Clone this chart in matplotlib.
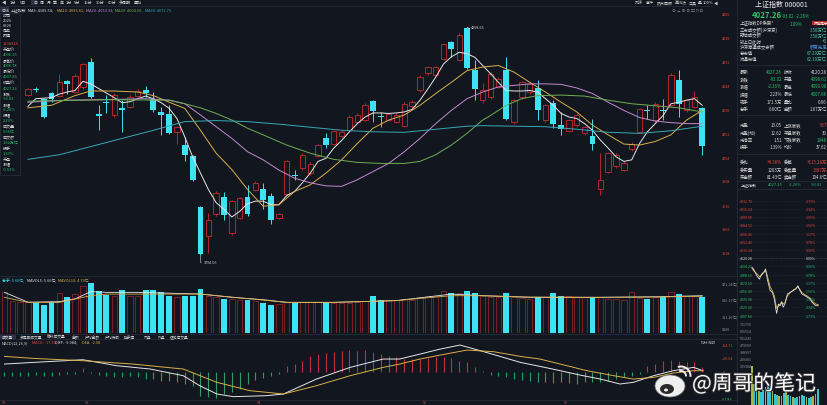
import numpy as np
import matplotlib.pyplot as plt
from matplotlib.patches import Rectangle, Ellipse, Arc
from matplotlib import patheffects as pe

plt.rcParams['font.family'] = ['Noto Sans CJK SC', 'DejaVu Sans']
plt.rcParams['axes.unicode_minus'] = False

# ---------------- daily candles (index 0..86) ----------------
opens = [4127, 4138, 4118, 4131, 4125, 4153, 4133, 4142, 4191, 4088,
         4113, 4086, 4101, 4103, 4125, 4135, 4118, 4093, 4088, 4054,
         4029, 4007, 3907, 3850, 3892, 3926, 3855, 3885, 3926, 3940,
         3942, 3929, 3885, 3933, 3970, 3983, 3973, 4007, 4041, 4031,
         4046, 4057, 4074, 4077, 4114, 4085, 4077, 4074, 4065, 4104,
         4135, 4169, 4166, 4197, 4231, 4195, 4257, 4175, 4116, 4122,
         4142, 4175, 4074, 4122, 4132, 4140, 4077, 4111, 4068, 4056,
         4067, 4051, 4046, 3941, 3976, 3986, 3980, 4020, 4054, 4096,
         4077, 4096, 4106, 4155, 4096, 4103, 4101]
closes = [4137, 4135, 4083, 4119, 4151, 4148, 4164, 4186, 4123, 4085,
          4110, 4127, 4097, 4123, 4134, 4130, 4096, 4086, 4051, 4064,
          4009, 3959, 3814, 3882, 3934, 3891, 3918, 3924, 3893, 3954,
          3921, 3882, 3892, 3996, 3968, 4009, 3991, 4028, 4029, 4055,
          4054, 4083, 4087, 4107, 4095, 4083, 4088, 4087, 4109, 4113,
          4162, 4181, 4181, 4226, 4216, 4244, 4179, 4137, 4135, 4168,
          4158, 4079, 4116, 4151, 4148, 4096, 4106, 4070, 4059, 4077,
          4087, 4063, 4030, 3960, 4012, 4009, 3993, 4031, 4098, 4094,
          4109, 4094, 4166, 4109, 4116, 4122, 4027]
highs = [4140, 4142, 4121, 4133, 4168, 4156, 4168, 4189, 4199, 4106,
         4127, 4130, 4116, 4126, 4137, 4143, 4132, 4103, 4106, 4065,
         4043, 4009, 3908, 3895, 3937, 3935, 3921, 3927, 3950, 3957,
         3954, 3934, 3894, 3998, 3980, 4012, 3994, 4031, 4051, 4058,
         4057, 4086, 4090, 4110, 4117, 4093, 4091, 4090, 4112, 4116,
         4165, 4184, 4184, 4229, 4233, 4247, 4259, 4194, 4150, 4171,
         4161, 4201, 4118, 4154, 4151, 4155, 4109, 4116, 4093, 4080,
         4090, 4066, 4080, 4012, 4015, 4012, 3996, 4034, 4101, 4106,
         4112, 4119, 4169, 4175, 4119, 4134, 4103]
lows = [4125, 4132, 4082, 4112, 4122, 4129, 4130, 4138, 4121, 4057,
        4090, 4084, 4054, 4100, 4122, 4122, 4093, 4048, 4050, 4031,
        3996, 3957, 3812, 3817, 3889, 3882, 3852, 3883, 3889, 3937,
        3903, 3874, 3883, 3930, 3960, 3980, 3970, 4005, 4022, 4029,
        4043, 4055, 4071, 4075, 4074, 4064, 4075, 4071, 4063, 4101,
        4133, 4166, 4163, 4194, 4201, 4193, 4177, 4116, 4110, 4119,
        4139, 4077, 4070, 4119, 4129, 4078, 4074, 4061, 4048, 4053,
        4064, 4048, 4018, 3931, 3973, 3983, 3977, 4017, 4051, 4080,
        4074, 4077, 4103, 4083, 4093, 4100, 4009]

# moving averages
ma5 = [4104, 4119, 4120, 4121, 4128, 4132, 4135, 4153, 4148, 4139,
       4130, 4121, 4111, 4113, 4119, 4124, 4119, 4111, 4100, 4080,
       4044, 4005, 3973, 3941, 3915, 3902, 3887, 3898, 3913, 3918,
       3918, 3911, 3911, 3929, 3937, 3954, 3973, 3996, 4002, 4022,
       4037, 4054, 4070, 4083, 4091, 4091, 4090, 4091, 4093, 4098,
       4116, 4138, 4161, 4187, 4201, 4210, 4207, 4200, 4184, 4168,
       4151, 4135, 4134, 4134, 4135, 4132, 4119, 4106, 4090, 4083,
       4080, 4070, 4057, 4038, 4022, 4005, 3996, 3999, 4031, 4054,
       4070, 4086, 4109, 4112, 4116, 4119, 4106]
ma10_x = [0, 3, 6, 8, 11, 14, 16, 18, 20, 22, 24, 26, 28, 30, 32, 34, 36, 38, 40, 42, 44,
          46, 48, 50, 52, 54, 56, 58, 60, 62, 64, 66, 68, 70, 72, 74, 76, 78, 80, 82, 84, 86]
ma10 = [4101, 4106, 4125, 4134, 4134, 4132, 4125, 4112, 4100, 4057, 4012, 3980, 3941, 3908,
        3911, 3937, 3950, 3973, 3999, 4031, 4061, 4077, 4087, 4106, 4129, 4151, 4174, 4181,
        4184, 4171, 4151, 4132, 4112, 4093, 4067, 4048, 4030, 4028, 4035, 4048, 4077, 4096]
ma20_x = [0, 5, 10, 15, 18, 20, 22, 24, 26, 28, 30, 32, 34, 36, 38, 40, 42, 44, 46, 48,
          50, 52, 54, 56, 58, 60, 62, 64, 66, 68, 70, 72, 74, 76, 78, 80, 82, 84, 86]
ma20 = [4112, 4116, 4117, 4119, 4116, 4109, 4087, 4064, 4041, 4015, 3999, 3979, 3963, 3954,
        3948, 3947, 3960, 3976, 3992, 4015, 4041, 4070, 4096, 4119, 4132, 4142, 4145, 4148,
        4148, 4147, 4140, 4129, 4112, 4096, 4082, 4075, 4072, 4070, 4070]
ma30_x = [0, 10, 18, 20, 22, 24, 26, 28, 30, 33, 36, 39, 42, 45, 48, 50, 52, 54, 56, 58,
          59, 61, 63, 65, 68, 71, 74, 77, 80, 83, 86]
ma30 = [4114, 4117, 4116, 4109, 4101, 4090, 4077, 4061, 4048, 4028, 4012, 4000, 3994, 3992,
        3992, 3996, 4009, 4028, 4051, 4077, 4086, 4106, 4119, 4125, 4126, 4124, 4116, 4109,
        4105, 4101, 4093]
ma60_x = [0, 4, 8, 12, 16, 20, 24, 28, 32, 36, 40, 44, 48, 52, 56, 58, 62, 66, 70, 74, 78, 82, 86]
ma60 = [4000, 4009, 4025, 4041, 4057, 4074, 4076, 4074, 4069, 4063, 4057, 4054, 4053, 4059,
        4065, 4066, 4065, 4064, 4059, 4053, 4051, 4056, 4065]
price_ticks = [4285, 4238, 4191, 4144, 4098, 4051, 4004, 3958, 3910, 3865, 3818]

# ---------------- volume (index -3..86) ----------------
vol_x = list(range(-3, 87))
volumes = [752, 598, 567,
           567, 549, 518, 579, 740, 660, 721, 876, 919, 777,
           709, 690, 801, 690, 690, 789, 795, 752, 690, 660,
           678, 690, 808, 690, 660, 629, 629, 616, 616, 598,
           561, 511, 536, 567, 561, 567, 567, 567, 573, 555,
           555, 555, 579, 592, 684, 616, 616, 616, 629, 616,
           660, 690, 690, 783, 734, 740, 771, 740, 690, 660,
           660, 734, 660, 641, 629, 666, 660, 740, 684, 678,
           660, 666, 672, 660, 629, 629, 616, 752, 641, 629,
           660, 660, 764, 721, 678, 690, 672]
mavol5_x = [-3, 0, 4, 6, 8, 10, 14, 22, 26, 30, 33, 39, 47, 50, 54, 58, 64, 73, 80, 86]
mavol5 = [752, 570, 580, 630, 765, 752, 752, 721, 660, 616, 567, 567, 600, 650, 720, 690, 660, 660, 670, 690]
mavol10_x = [-3, 0, 4, 8, 10, 16, 22, 27, 33, 39, 47, 50, 54, 58, 64, 73, 80, 86]
mavol10 = [660, 567, 567, 690, 720, 720, 721, 650, 567, 567, 598, 640, 690, 690, 665, 660, 665, 680]
vol_ticks = [921.14, 616.17, 311.20]

# ---------------- MACD ----------------
macd_hist = [-9.5, -8.1, -9.5,
             -8.1, -6.8, -8.1, -9.5, -6.8, -5.4, -4.1, 8.1, -2.7, -6.8,
             -8.1, -11.5, -11.5, -9.5, -11.5, -14.9, -14.9, -18.3, -18.3, -21.6,
             -25, -28.4, -48.7, -52, -54.1, -46, -41.9, -35.2, -25, -16.2,
             -12.2, -8.1, -4.7, 10.8, 15.5, 22.3, 31.1, 35.8, 37.9, 39.2,
             42.6, 44.6, 42.6, 44.6, 39.2, 35.8, 31.1, 29.1, 25.7, 25,
             25.7, 27, 29.1, 29.1, 27, 22.3, 18.9, 8.8, 2, -6.8,
             -8.1, -11.5, -14.9, -16.2, -18.3, -20.3, -21.6, -23, -21.6, -23,
             -25, -21.6, -21.6, -20.3, -18.3, -14.9, -11.5, -8.1, -4.7, 12.2,
             15.5, 22.3, 24.3, 22.3, 20.3, 18.9, 8.8]
diff_x = [-3, 0.7, 7, 11.3, 15.6, 19.8, 21.9, 24.1, 26.2, 30.4, 32.6, 36.8, 41.1, 45.3, 47.4,
          50, 52.6, 55.1, 57.7, 60.2, 62.8, 65.3, 67.9, 70.4, 73, 75.5, 77.2, 79.8, 82.3, 84.9, 86.1]
diff_v = [15.5, 18.9, 24.3, 12.2, 5.4, -8.1, -28.4, -45.3, -50.7, -48.7, -45.3, -14.9, 8.8, 25.7,
          25.7, 35.8, 46, 54.1, 42.6, 31.1, 18.9, 10.8, 2, -6.8, -14.9, -25, -21.6, -8.1, 2, 8.8, 2]
dea_x = [-3, 0.7, 7, 13.4, 19.8, 24.1, 28.3, 32.6, 36.8, 41.1, 45.3, 47.4, 50, 52.6, 56, 59.4,
         62.8, 65.3, 67.9, 71.3, 74.7, 77.2, 79.8, 82.3, 84.9, 86.1]
dea_v = [31.1, 27, 22.3, 15.5, 5.4, -21.6, -38.5, -45.3, -28.4, -8.1, 8.8, 15.5, 25.7, 33.8,
         43.9, 40.6, 31.1, 25.7, 15.5, 2, -8.1, -14.9, -11.5, -2.7, 2, 2]

# ---------------- intraday mini chart ----------------
intra_min = [0, 5, 17, 26, 34, 42, 48, 54, 64, 72, 79, 84, 87, 93, 99, 105, 110, 116, 125, 134,
             146, 155, 162, 169, 176, 186, 195, 205, 212, 219, 226, 234]
intra_price = [4102, 4099, 4086, 4079, 4089, 4093, 4099, 4079, 4057, 4053, 4040, 4021, 4012, 4030,
               4027, 4034, 4024, 4030, 4050, 4053, 4057, 4060, 4066, 4057, 4050, 4047, 4044, 4040,
               4034, 4030, 4027, 4027]
intra_avg = [4100, 4096, 4090, 4084, 4087, 4092, 4096, 4086, 4064, 4056, 4046, 4030, 4022, 4026,
             4030, 4035, 4030, 4033, 4046, 4052, 4058, 4061, 4064, 4059, 4053, 4049, 4046, 4042,
             4037, 4033, 4030, 4029]
intra_ticks = [4232.70, 4216.64, 4200.58, 4184.52, 4168.46, 4152.40, 4136.34, 4120.28,
               4104.22, 4088.16, 4072.10, 4056.04, 4039.98, 4023.92, 4007.86]
intra_pct = ['2.73%', '2.34%', '1.95%', '1.56%', '1.17%', '0.78%', '0.39%', '0.00%',
             '0.39%', '0.78%', '1.17%', '1.56%', '1.95%', '2.34%', '2.73%']
ivol_min = [0, 8, 16, 24, 32, 40, 48, 56, 64, 72, 80, 88, 96, 104, 112, 120, 128, 136, 144, 152,
            160, 168, 176, 184, 192, 200, 208, 216, 224, 232]
ivol = [390, 210, 170, 140, 130, 150, 180, 200, 170, 140, 110, 100, 90, 95, 120, 130, 100, 90,
        80, 70, 85, 95, 105, 90, 80, 75, 85, 95, 110, 160]

# ---------------- style ----------------
W, H = 828, 406
BG = '#12161f'
GRID = '#262c38'
CYAN = '#3de3f2'
RED = '#b3272e'
RED_T = '#e0443c'
GREEN = '#27c26a'
WHITE = '#d6d6d6'
GREY = '#8e949e'
YEL = '#d8b04a'
PURP = '#c28ad0'
MGREEN = '#6fae55'
TEAL = '#35a9b5'

fig = plt.figure(figsize=(W / 100, H / 100), dpi=100, facecolor=BG)


def box(l, t, r, b):
    return [l / W, 1 - b / H, (r - l) / W, (b - t) / H]


def ftext(x, y, s, color=WHITE, size=3.2, ha='left', **kw):
    fig.text(x / W, 1 - y / H, s, color=color, fontsize=size, ha=ha, va='center', zorder=7, **kw)


def hline(y, x0, x1, color=GRID, lw=0.6):
    fig.add_artist(plt.Line2D([x0 / W, x1 / W], [1 - y / H, 1 - y / H], color=color, lw=lw, zorder=4))


def vline(x, y0, y1, color=GRID, lw=0.6):
    fig.add_artist(plt.Line2D([x / W, x / W], [1 - y0 / H, 1 - y1 / H], color=color, lw=lw, zorder=4))


def frect(l, t, r, b, fc, ec='none', lw=0.5, z=5):
    fig.add_artist(Rectangle((l / W, 1 - b / H), (r - l) / W, (b - t) / H, transform=fig.transFigure,
                             facecolor=fc, edgecolor=ec, lw=lw, zorder=z))


def price_at(y):
    return 4285 - 1.946 * (y - 13)


XL = ((0 - 28) / 7.84, (712 - 28) / 7.84)
LAB_X = 1 + 10 / 712


def clean(a):
    a.set_facecolor(BG)
    a.set_xlim(*XL)
    a.set_xticks([])
    for s in a.spines.values():
        s.set_visible(False)


# ---------------- price panel ----------------
ax = fig.add_axes(box(0, 15, 712, 276))
clean(ax)
ax.set_ylim(price_at(276), price_at(15))
ax.yaxis.tick_right()
ax.set_yticks(price_ticks)
ax.set_yticklabels([str(v) for v in price_ticks])
ax.tick_params(axis='y', length=0, pad=7.2, labelsize=2.7, labelcolor=RED_T)

o, c, h, l = map(np.array, (opens, closes, highs, lows))
x = np.arange(len(o))
up = c >= o
lo = np.minimum(o, c)
hi = np.maximum(o, c)
bh = np.maximum(hi - lo, 1.5)
ax.vlines(x[~up], l[~up], h[~up], color=CYAN, lw=0.7, zorder=2)
ax.bar(x[~up], bh[~up], bottom=lo[~up], width=0.76, color=CYAN, lw=0, zorder=3)
ax.vlines(x[up], hi[up], h[up], color=RED, lw=0.7, zorder=2)
ax.vlines(x[up], l[up], lo[up], color=RED, lw=0.7, zorder=2)
ax.bar(x[up], bh[up], bottom=lo[up], width=0.68, facecolor=BG, edgecolor=RED, lw=0.7, zorder=3)

ax.plot(x, ma5, color='#e6e6e6', lw=0.7, zorder=4)
ax.plot(ma10_x, ma10, color=YEL, lw=0.7, zorder=4)
ax.plot(ma20_x, ma20, color=PURP, lw=0.7, zorder=4)
ax.plot(ma30_x, ma30, color=MGREEN, lw=0.7, zorder=4)
ax.plot(ma60_x, ma60, color=TEAL, lw=0.7, zorder=4)

imax = int(np.argmax(h))
imin = int(np.argmin(l))
ax.annotate('4258.66', xy=(imax, h[imax]), xytext=(3, 0.5), textcoords='offset points',
            fontsize=2.7, color=WHITE, va='center',
            arrowprops=dict(arrowstyle='-', color=WHITE, lw=0.4, shrinkA=0, shrinkB=0))
ax.annotate('3794.56', xy=(imin, l[imin]), xytext=(2.5, -5), textcoords='offset points',
            fontsize=2.7, color=WHITE, va='center',
            arrowprops=dict(arrowstyle='-', color=WHITE, lw=0.4, shrinkA=0, shrinkB=0,
                            connectionstyle='angle,angleA=0,angleB=90,rad=0'))

# ---------------- volume panel ----------------
ax2 = fig.add_axes(box(0, 278, 712, 334))
clean(ax2)
ax2.set_ylim(0, (334 - 278) * 18.5)
vx = np.array(vol_x)
vv = np.array(volumes)
vup = np.array([True] * 3 + list(up))
ax2.bar(vx[~vup], vv[~vup], width=0.76, color=CYAN, lw=0, zorder=3)
ax2.bar(vx[vup], vv[vup], width=0.68, facecolor=BG, edgecolor='#8c2228', lw=0.6, zorder=3)
ax2.plot(mavol5_x, mavol5, color='#e6e6e6', lw=0.6, zorder=4)
ax2.plot(mavol10_x, mavol10, color=YEL, lw=0.6, zorder=4)
ax2.set_yticks([])
for v in vol_ticks:
    ax2.text(LAB_X, v, f'{v:.2f}亿]', transform=ax2.get_yaxis_transform(), fontsize=2.7,
             color=GREY, va='center', clip_on=False)
ftext(722, 330, 'X100', color=GREY, size=2.7)

# ---------------- MACD panel ----------------
ax3 = fig.add_axes(box(0, 345, 712, 400))
clean(ax3)
ax3.set_ylim((372.7 - 400) * 2.03, (372.7 - 345) * 2.03)
ax3.set_yticks([])
hx = np.array(vol_x)
hv = np.array(macd_hist)
ax3.vlines(hx[hv >= 0], 0, hv[hv >= 0], color='#c0303a', lw=0.8)
ax3.vlines(hx[hv < 0], 0, hv[hv < 0], color='#2e9c5e', lw=0.8)
ax3.plot(diff_x, diff_v, color='#e6e6e6', lw=0.7)
ax3.plot(dea_x, dea_v, color=YEL, lw=0.7)
for v, s, col in [(54.1, '+54.71', RED_T), (27.8, '+26.64', RED_T), (0, '+0', RED_T),
                  (-54.5, '-57.83', GREEN)]:
    ax3.text(LAB_X, v, s, transform=ax3.get_yaxis_transform(), fontsize=2.7, color=col,
             va='center', clip_on=False)

# ---------------- separators ----------------
hline(6.5, 0, 712)
hline(277, 0, 737)
hline(335.2, 0, 737)
hline(340, 0, 737)
hline(400.8, 0, 737)
vline(737, 0, 406)

# ---------------- toolbar / headers ----------------
frect(31.5, 0.5, 37.5, 5.8, '#2b3342')
for tx, s in [(2, '◀|'), (10, '1分'), (20, '5日'), (33, '日'), (40, '周'), (46.5, '月'),
              (53, '季'), (59.5, '年'), (66, '1分'), (74, '5分'), (84, '15分'), (96, '30分'),
              (108, '60分'), (119, '多周期'), (134, '叠加')]:
    ftext(tx, 3.2, s, size=2.9, color=WHITE)
for tx, s in [(635, '九转'), (646, '事件'), (657, '热点回顾'), (675, '画线法'), (689, '工具'),
              (698, '星'), (703, '100%'), (714, '◀')]:
    ftext(tx, 3.2, s, size=2.9, color=WHITE)
ftext(672, 10.5, '⊙ ∠ ⊕ ⊖ ▢ ⊓ ⊡', size=2.8, color=GREY)

frect(0.5, 8, 9, 13, '#2b3342')
ftext(1.5, 10.5, '日线', size=2.8)
ftext(10.5, 10.5, '上证指数', size=2.8)
ftext(28, 10.5, 'MA5: 4105.54;', size=2.8, color='#e6e6e6')
ftext(57, 10.5, 'MA10: 4096.61;', size=2.8, color=YEL)
ftext(86, 10.5, 'MA20: 4053.33;', size=2.8, color=PURP)
ftext(115, 10.5, 'MA30: 4004.60;', size=2.8, color=MGREEN)
ftext(145, 10.5, 'MA60: 4071.79', size=2.8, color=TEAL)

# left info panel
frect(0, 14, 20, 176, BG, ec='#2c3240', lw=0.5, z=5)
left_items = [('时间', WHITE, 16), ('2026', WHITE, 20.6), ('0526', WHITE, 25.7), ('周五', WHITE, 30.7),
              ('财通', WHITE, 35.7), ('1208914', RED_T, 43.7), ('开盘价', WHITE, 50),
              ('4096.16', GREEN, 55.3), ('最高价', WHITE, 61.7), ('4096.78', GREEN, 65.7),
              ('最低价', WHITE, 72), ('4007.86', GREEN, 76.7), ('收盘价', WHITE, 83),
              ('4027.26', GREEN, 88.7), ('涨跌', WHITE, 94.7), ('-93.02', GREEN, 99.3),
              ('涨幅', WHITE, 105.7), ('-2.26%', GREEN, 110), ('振幅', WHITE, 115.7),
              ('2.23%', GREEN, 120.7), ('成交量', WHITE, 127), ('5.66亿', GREEN, 131.7),
              ('成交额', WHITE, 137.7), ('1.62万亿', GREEN, 142.7), ('换手', WHITE, 149),
              ('1.39%', GREEN, 153.7), ('开盘', WHITE, 159.7), ('涨幅', WHITE, 164.3),
              ('-0.53%', GREEN, 170)]
for s, col, ty in left_items:
    ftext(3, ty, s, color=col, size=2.9)

# volume header, tabs, MACD header
ftext(2, 281.5, '总手: 5.66亿;', size=2.8, color=CYAN)
ftext(27, 281.5, 'MAVOL5: 5.66亿;', size=2.8, color='#e6e6e6')
ftext(58, 281.5, 'MAVOL10: 4.73亿', size=2.8, color=YEL)
frect(0.5, 335.6, 16, 339.6, '#2b3342')
for tx, s in [(2, '成交量'), (20, '多周期成交量'), (47, '循环成交量'), (72, '金额'),
              (85, '户均金额'), (105, '户均持股'), (124, '换手率'), (144, '内盘'),
              (158, '外盘'), (170, '逐笔成交量')]:
    ftext(tx, 337.6, s, size=2.7, color=WHITE)
ftext(2, 342.8, 'MACD(12,26,9)', size=2.8)
ftext(32, 342.8, 'MACD: -17.95;', size=2.8, color=RED_T)
ftext(55, 342.8, 'DIFF: -9.984;', size=2.8, color='#e6e6e6')
ftext(82, 342.8, 'DEA: -2.58', size=2.8, color=YEL)
ftext(701, 343, '指标说明', size=2.7, color=GREY)
for tx, s in [(2, '02'), (85, '03'), (257, '04'), (423, '05'), (564, '06')]:
    ftext(tx, 403, s, size=2.8, color='#c0474a')

# ---------------- right info panel ----------------
ftext(755, 5, '上证指数 000001', size=5, color='#eeeeee')
ftext(752, 15.5, '4027.26', size=5.6, color=GREEN, weight='bold')
ftext(782, 16, '-93.02', size=3.2, color=GREEN)
ftext(796, 16, '-2.26%', size=3.2, color=GREEN)

top_rows = [('上证指数DP乘势*', '', 24), ('三市成交额(沪深京)', '3.58万亿', 30),
            ('预估成交额', '3.58万亿', 36), ('较上日此时', '+0', 41.7),
            ('沪深港通成交余额', '额度充足', 47.3), ('总市值', '67.29万亿', 53.3),
            ('流通市值', '62.19万亿', 59.3)]
for lab, val, ty in top_rows:
    ftext(740, ty, lab, size=3.2)
    if val:
        ftext(827, ty, val, size=3.2, ha='right', color='#4cc2a0' if val != '额度充足' else '#4a9be8')
ftext(790, 24, '1.09%', size=3.2, color=GREEN)
frect(812, 21.6, 828, 26.4, '#c0282e', z=6)
ftext(813.5, 24, '风险提示', size=2.6, color='white')

pair_rows = [('最新', '4027.26', GREEN, '昨收', '4120.28', WHITE, 72),
             ('涨跌', '-93.02', GREEN, '开盘', '4098.61', GREEN, 79.5),
             ('涨幅', '-2.26%', GREEN, '最高', '4099.98', GREEN, 87),
             ('振幅', '2.23%', WHITE, '最低', '4007.86', GREEN, 94.5),
             ('现手', '171.5万', WHITE, '量比', '0.96', WHITE, 102),
             ('总手', '6.60亿', WHITE, '金额', '1.67万亿', WHITE, 109.5),
             ('市盈', '13.05', WHITE, '上涨家数', '657', RED_T, 126),
             ('市盈(动)', '12.62', WHITE, '平盘家数', '30', WHITE, 133.3),
             ('市净率', '1.51', WHITE, '下跌家数', '1948', GREEN, 140.3),
             ('换手', '1.39%', WHITE, '均价', '37.62', WHITE, 147.3),
             ('委比', '+4.38%', RED_T, '委差', '+115.28万', RED_T, 162.5),
             ('委买量', '1263万', WHITE, '委卖量', '1387万', RED_T, 170),
             ('买金额', '81.43亿', WHITE, '卖金额', '104.6亿', WHITE, 177.5)]
for l1, v1, c1, l2, v2, c2, ty in pair_rows:
    ftext(740, ty, l1, size=3.2)
    ftext(782, ty, v1, size=3.2, color=c1, ha='right')
    ftext(784, ty, l2, size=3.2)
    ftext(827, ty, v2, size=3.2, color=c2, ha='right')
for sy in [65.5, 115.5, 154.5, 181.5, 190]:
    hline(sy, 737, 828)
ftext(741, 185.5, '上证指数', size=2.9, color=WHITE)
ftext(768, 185.5, '4027.26', size=2.9, color=GREEN)
ftext(789, 185.5, '-2.26%', size=2.9, color=GREEN)
ftext(811, 185.5, '-93.02', size=2.9, color=GREEN)

# intraday price
axi = fig.add_axes(box(737, 195, 828, 320))
axi.set_facecolor(BG)
for s in axi.spines.values():
    s.set_visible(False)
axi.set_xlim((737 - 752) * 240 / 68, (828 - 752) * 240 / 68)
axi.set_ylim(4232.70 - (320 - 201.7) * 1.9585, 4232.70 + (201.7 - 195) * 1.9585)
axi.set_xticks([])
axi.set_yticks([])
for i, (t, p) in enumerate(zip(intra_ticks, intra_pct)):
    col = RED_T if i < 7 else (WHITE if i == 7 else GREEN)
    axi.axhline(t, color='#2a303c' if i != 7 else '#777777', lw=0.4, ls=(0, (1, 2)))
    axi.text(0.027, t, f'{t:.2f}', transform=axi.get_yaxis_transform(), fontsize=2.6,
             color=col, va='center')
    axi.text(0.755, t, p, transform=axi.get_yaxis_transform(), fontsize=2.6, color=col, va='center')
axi.plot(intra_min, intra_avg, color=YEL, lw=0.6)
axi.plot(intra_min, intra_price, color='#e0e0e0', lw=0.6)

# intraday volume
axv = fig.add_axes(box(737, 320, 828, 406))
axv.set_facecolor(BG)
for s in axv.spines.values():
    s.set_visible(False)
axv.set_xlim((737 - 752) * 240 / 68, (828 - 752) * 240 / 68)
axv.set_ylim(0, 860)
axv.set_xticks([])
axv.set_yticks([])
bar_cols = [CYAN if i % 3 else '#c8d04a' for i in range(len(ivol))]
axv.bar(ivol_min, ivol, width=6, color=bar_cols, alpha=0.85, lw=0)
for ty, s in [(325, '791795'), (332, '695514'), (339, '591243'), (346, '479999'),
              (353, '398997'), (360, '299361'), (367, '199384')]:
    ftext(739.5, ty, s, size=2.6, color=GREY)

# ---------------- watermark ----------------
fig.add_artist(Ellipse((670 / W, 1 - 387 / H), 30 / W, 22 / H, transform=fig.transFigure,
                       fc='#efefef', ec='#777777', lw=0.5, zorder=9))
fig.add_artist(Ellipse((667 / W, 1 - 390 / H), 14 / W, 10 / H, transform=fig.transFigure,
                       fc='#2b2b2b', zorder=10))
fig.add_artist(Ellipse((666 / W, 1 - 391 / H), 4 / W, 3 / H, transform=fig.transFigure,
                       fc='#efefef', zorder=11))
fig.add_artist(Arc((681 / W, 1 - 377 / H), 10 / W, 10 / H, theta1=-10, theta2=100,
                   transform=fig.transFigure, color='#efefef', lw=1.4, zorder=10))
fig.add_artist(Arc((681 / W, 1 - 377 / H), 19 / W, 19 / H, theta1=-10, theta2=100,
                   transform=fig.transFigure, color='#efefef', lw=1.4, zorder=10))
fig.text(692 / W, 1 - 385 / H, '@周哥的笔记', fontsize=15, color='white', va='center', zorder=12,
         path_effects=[pe.withStroke(linewidth=1.2, foreground='#3a3a3a')])

fig.savefig('out.png', dpi=100, facecolor=BG)
